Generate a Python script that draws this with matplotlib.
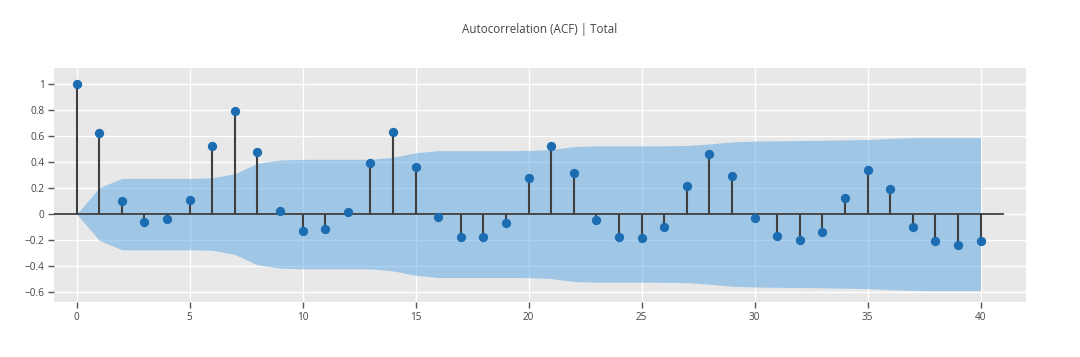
import numpy as np
import matplotlib
matplotlib.use("Agg")
import matplotlib.pyplot as plt

plt.rcParams['font.family'] = ['Open Sans', 'DejaVu Sans']

# ACF values, lags 0..40
lags = list(range(41))
acf_vals = [1.0, 0.62, 0.10, -0.06, -0.035, 0.11, 0.52, 0.79, 0.48, 0.025,
            -0.13, -0.115, 0.013, 0.39, 0.63, 0.36, -0.025, -0.175, -0.175, -0.07,
            0.275, 0.52, 0.315, -0.044, -0.177, -0.18, -0.097, 0.218, 0.46, 0.295,
            -0.033, -0.172, -0.197, -0.138, 0.126, 0.34, 0.19, -0.097, -0.21, -0.238,
            -0.208]
# upper confidence bound (band is symmetric around zero)
conf_upper = [0.0, 0.202, 0.274, 0.274, 0.274, 0.274, 0.278, 0.31, 0.39, 0.415,
              0.42, 0.42, 0.42, 0.42, 0.436, 0.47, 0.487, 0.487, 0.487, 0.487,
              0.488, 0.495, 0.518, 0.523, 0.523, 0.523, 0.524, 0.526, 0.538, 0.554,
              0.56, 0.562, 0.564, 0.566, 0.569, 0.572, 0.58, 0.586, 0.587, 0.587,
              0.587]
x_ticks = [0, 5, 10, 15, 20, 25, 30, 35, 40]
y_ticks = [-0.6, -0.4, -0.2, 0, 0.2, 0.4, 0.6, 0.8, 1]
title = "Autocorrelation (ACF) | Total"

lags = np.array(lags)
acf_vals = np.array(acf_vals)
conf_upper = np.array(conf_upper)

fig = plt.figure(figsize=(10.8, 3.57), dpi=100)
ax = fig.add_axes([54.3 / 1080, (357 - 302.3) / 357, (1025.7 - 54.3) / 1080, (302.3 - 67.7) / 357])
ax.set_facecolor('#E8E8E8')

ax.fill_between(lags, -conf_upper, conf_upper, color='#5AA6E6', alpha=0.5, lw=0, zorder=2)
ax.plot([-1, 41], [0, 0], color='#3f3f3f', lw=1.3, zorder=3)
ax.vlines(lags, 0, acf_vals, color='#3f3f3f', lw=1.5, zorder=3)
ax.scatter(lags, acf_vals, s=45, color='#1c6cb2', zorder=4, linewidths=0)

ax.set_xlim(-0.99, 42.0)
ax.set_ylim(-0.677, 1.123)
ax.set_xticks(x_ticks)
ax.set_yticks(y_ticks)
ax.set_yticklabels(['\u22120.6', '\u22120.4', '\u22120.2', '0', '0.2', '0.4', '0.6', '0.8', '1'])
ax.grid(True, color='white', lw=1.0, zorder=1)
ax.set_axisbelow(True)
for s in ax.spines.values():
    s.set_visible(False)
ax.tick_params(axis='both', colors='#555555', labelcolor='#444444', labelsize=7.2,
               length=4, width=1, direction='out', pad=3)

fig.text(0.5, 1 - 30 / 357, title, ha='center', va='center', fontsize=8.4, color='#444444')

fig.savefig('out.png', dpi=100, facecolor='white')
